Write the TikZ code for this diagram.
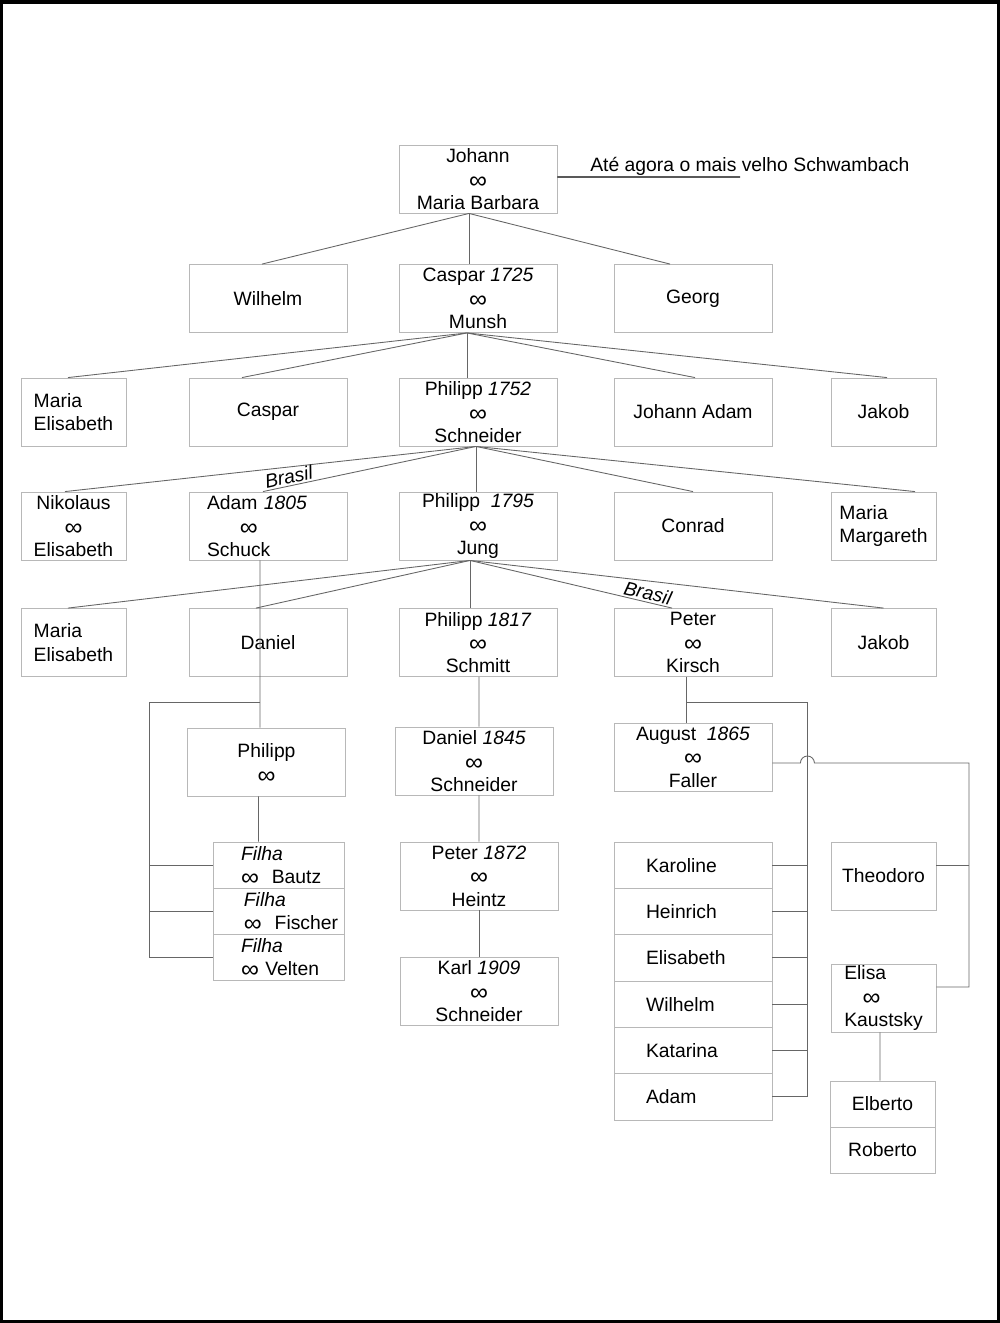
\documentclass[tikz,border=0pt]{standalone}
\usepackage{fontspec}
\usepackage{graphicx}
\setmainfont{Liberation Sans}
\definecolor{boxgray}{gray}{0.72}
\definecolor{linkgray}{gray}{0.4}
\newcommand{\marr}{\smash{\raisebox{-0.12em}{\scalebox{1.3}[1.25]{∞}}}}

\begin{document}
\begin{tikzpicture}[x=0.02cm,y=-0.02cm,
	font=\fontsize{11}{13.3}\selectfont,
	box/.style={draw=boxgray,line width=0.5pt,inner xsep=2pt,inner ysep=0.5pt,minimum width=3.16cm,minimum height=1.36cm,align=center},
	small/.style={box,minimum width=2.1cm},
	kid/.style={box,minimum height=0.927cm,text width=1.88cm,inner xsep=0.64cm,align=left},
	filha/.style={box,minimum width=2.62cm,minimum height=0.92cm,text width=1.5cm,inner xsep=0.56cm,align=left},
	link/.style={draw=linkgray,line width=0.5pt},
	brasil/.style={font=\fontsize{11}{13}\selectfont\itshape,sloped,above,inner sep=1pt,pos=0.87}]
		\useasboundingbox (0,0) rectangle (1000,1323);
		\draw[line width=0.07cm] (1.75,1.75) rectangle (998.25,1321.25);

		\node[box] (johann) at (478,179) {Johann\\\marr\\Maria Barbara};
		\node[anchor=base west,inner sep=0pt] (note) at (590,171) {Até agora o mais velho Schwambach};
		\coordinate (noteend) at (740,177);
		\draw[line width=0.7pt] ([yshift=0.04cm]johann.east) -- (noteend);

		\node[box] (wilhelm) at (268,298.5) {Wilhelm};
		\node[box] (caspar) at (478,298.5) {Caspar \textit{1725}\\\marr\\Munsh};
		\node[box] (georg) at (693,298.5) {Georg};

		\node[small,align=left] (mariaA) at (73.5,412) {Maria\\Elisabeth};
		\node[box] (casparB) at (268,412) {Caspar};
		\node[box] (philippA) at (478,412) {Philipp \textit{1752}\\\marr\\Schneider};
		\node[box] (johannadam) at (693,412) {Johann Adam};
		\node[small] (jakobA) at (883.5,412) {Jakob};

		\node[small] (nikolaus) at (73.5,526) {Nikolaus\\\marr\\Elisabeth};
		\node[box,text width=2.44cm,inner xsep=0.36cm,align=left] (adam) at (268,526) {Adam \textit{1805}\\\hspace{1.7em}\marr\\Schuck};
		\node[box] (philippB) at (478,526) {Philipp~~\textit{1795}\\\marr\\Jung};
		\node[box] (conrad) at (693,526) {Conrad};
		\node[small,align=left] (mariaB) at (883.5,526) {Maria\\Margareth};

		\node[small,align=left] (mariaC) at (73.5,642.5) {Maria\\Elisabeth};
		\node[box] (daniel) at (268,642.5) {Daniel};
		\node[box] (philippC) at (478,642.5) {Philipp \textit{1817}\\\marr\\Schmitt};
		\node[box] (peter) at (693,642.5) {Peter\\\marr\\Kirsch};
		\node[small] (jakobB) at (883.5,642.5) {Jakob};

		\node[box] (philippD) at (266.5,762) {Philipp\\\marr};
		\node[filha] (bautz) at (278.5,865) {\textit{Filha}\\\mbox{\marr~~Bautz}};
		\node[filha] (fischer) at (278.5,911) {\hspace{0.15em}\textit{Filha}\\\mbox{\hspace{0.15em}\marr~~Fischer}};
		\node[filha] (velten) at (278.5,957) {\textit{Filha}\\\mbox{\marr~Velten}};

		\node[box] (danielB) at (474,761) {Daniel \textit{1845}\\\marr\\Schneider};
		\node[box] (peterB) at (479,876) {Peter \textit{1872}\\\marr\\Heintz};
		\node[box] (karl) at (479,991) {Karl \textit{1909}\\\marr\\Schneider};

		\node[box] (august) at (693,757) {August~~\textit{1865}\\\marr\\Faller};
		\node[kid] (karoline) at (693,865.2) {Karoline};
		\node[kid] (heinrich) at (693,911.5) {Heinrich};
		\node[kid] (elisabeth) at (693,957.8) {Elisabeth};
		\node[kid] (wilhelmB) at (693,1004.2) {Wilhelm};
		\node[kid] (katarina) at (693,1050.5) {Katarina};
		\node[kid] (adamB) at (693,1096.8) {Adam};

		\node[small] (theodoro) at (883.5,876) {Theodoro};
		\node[small,align=left] (elisa) at (883.5,998) {Elisa\\\hspace{0.95em}\marr\\Kaustsky};
		\node[small,minimum height=0.92cm] (elberto) at (882.5,1104) {Elberto};
		\node[small,minimum height=0.92cm] (roberto) at (882.5,1150) {Roberto};

		\foreach \kid/\dx in {wilhelm/-0.12,caspar/-0.18,georg/-0.46}
			\draw[link] ([xshift=-0.18cm]johann.south) -- ([xshift=\dx cm]\kid.north);
		\foreach \kid/\dx in {mariaA/-0.11,casparB/-0.52,philippA/-0.22,johannadam/0.04,jakobA/0.07}
			\draw[link] ([xshift=-0.22cm]caspar.south) -- ([xshift=\dx cm]\kid.north);
		\foreach \kid/\dx in {nikolaus/-0.17,philippB/-0.04,conrad/0,mariaB/0.63}
			\draw[link] ([xshift=-0.04cm]philippA.south) -- ([xshift=\dx cm]\kid.north);
		\draw[link] ([xshift=-0.04cm]philippA.south) -- node[brasil] {Brasil} ([xshift=-0.1cm]adam.north);
		\foreach \kid/\dx in {mariaC/-0.11,daniel/-0.24,philippC/-0.16,jakobB/0}
			\draw[link] ([xshift=-0.16cm]philippB.south) -- ([xshift=\dx cm]\kid.north);
		\draw[link] ([xshift=-0.16cm]philippB.south) -- node[brasil] {Brasil} ([xshift=-0.42cm]peter.north);

		\coordinate (adamfork) at (260,702);
		\coordinate (leftbar) at (149,702);
		\draw[link] ([xshift=-0.16cm]adam.south) -- (adamfork) -- (adamfork |- philippD.north);
		\draw[link] (adamfork) -- (leftbar) -- (leftbar |- velten.west) -- (velten.west);
		\draw[link] (leftbar |- bautz.west) -- (bautz.west);
		\draw[link] (leftbar |- fischer.west) -- (fischer.west);
		\draw[link] ([xshift=-0.16cm]philippD.south) -- ([xshift=-0.4cm]bautz.north);

		\draw[link] ([xshift=0.02cm]philippC.south) -- ([xshift=0.1cm]danielB.north);
		\draw[link] ([xshift=0.1cm]danielB.south) -- (peterB.north);
		\draw[link] (peterB.south) -- (karl.north);

		\coordinate (peterfork) at (686,702);
		\coordinate (rightbar) at (807,702);
		\draw[link] ([xshift=-0.14cm]peter.south) -- ([xshift=-0.14cm]august.north);
		\draw[link] (peterfork) -- (rightbar) -- (rightbar |- adamB.east) -- (adamB.east);
		\foreach \kid in {karoline,heinrich,elisabeth,wilhelmB,katarina}
			\draw[link] (\kid.east) -- (\kid.east -| rightbar);

		\coordinate (farbar) at (969,763);
		\coordinate (farend) at (969,987);
		\coordinate (theostub) at (969,865);
		\draw[link] ([yshift=-0.12cm]august.east) -- ++(28,0) arc[start angle=180,end angle=360,radius=7] -- (farbar) -- (farend) -- (farend -| elisa.east);
		\draw[link] (theostub) -- (theostub -| theodoro.east);
		\draw[link] ([xshift=-0.07cm]elisa.south) -- ([xshift=-0.05cm]elberto.north);
\end{tikzpicture}
\end{document}
